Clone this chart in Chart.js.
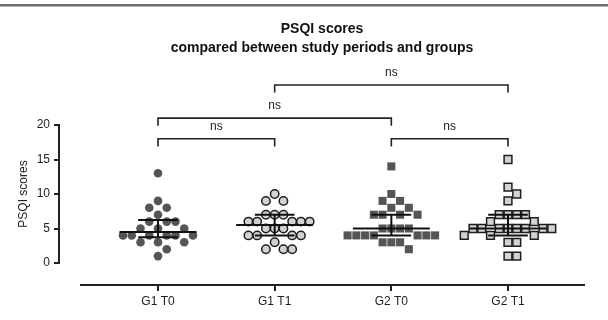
<!DOCTYPE html>
<html><head><meta charset="utf-8">
<script src="https://cdn.jsdelivr.net/npm/chart.js@4.4.1/dist/chart.umd.min.js"></script>
<style>html,body{margin:0;padding:0;background:#fff}#wrap{width:608px;height:320px;position:relative}</style>
</head><body><div id="wrap"><canvas id="c"></canvas></div>
<script>
// ---- data ----
const categories = ['G1 T0', 'G1 T1', 'G2 T0', 'G2 T1'];
const g1t0 = [13, 9, 8, 8, 7, 6, 6, 6, 5, 5, 5, 4, 4, 4, 4, 4, 4, 3, 3, 3, 2, 1];
const g1t1 = [10, 9, 9, 7, 7, 7, 6, 6, 6, 6, 6, 5, 5, 5, 4, 4, 4, 4, 3, 2, 2, 2];
const g2t0 = [14, 10, 9, 9, 8, 8, 7, 7, 7, 7, 5, 5, 5, 5, 4, 4, 4, 4, 4, 4, 4, 3, 3, 3, 2];
const g2t1 = [15, 11, 10, 9, 7, 7, 7, 7, 6, 6, 5, 5, 5, 5, 5, 5, 5, 5, 4, 4, 4, 3, 3, 1, 1];
const medians = [4.5, 5.5, 5, 5];
const q1s = [3.75, 4, 4, 4];
const q3s = [6.25, 7, 7, 7];
const yTicks = [0, 5, 10, 15, 20];
const bracketFrom = [0, 2, 0, 1];
const bracketTo = [1, 3, 2, 3];
const bracketLevel = [18, 18, 21, 25.8];
const bracketText = ['ns', 'ns', 'ns', 'ns'];

// ---- layout helpers ----
const STEP = 0.075;       // swarm column spacing (x units)
const LEG = 1.1;          // bracket leg length (y units)
const MED_HALF = 0.33, Q_HALF = 0.17;
const X_AXIS_VALUE = -3.19;

function swarm(values, center) {
  const occ = new Set();
  return values.map(v => {
    for (let k = 0; ; k++) {
      const c = k === 0 ? 0 : (k % 2 ? (k + 1) / 2 : -k / 2);
      if (!occ.has(v + '|' + c) && !occ.has((v - 1) + '|' + c) && !occ.has((v + 1) + '|' + c)) {
        occ.add(v + '|' + c);
        return {x: center + c * STEP, y: v};
      }
    }
  });
}

const groups = [g1t0, g1t1, g2t0, g2t1];
const pointStyles = [
  {pointStyle: 'circle', pointRadius: 4.3, backgroundColor: '#555555', borderColor: '#555555', borderWidth: 0},
  {pointStyle: 'circle', pointRadius: 4.2, backgroundColor: '#d2d2d2', borderColor: '#1e1e1e', borderWidth: 1.5},
  {pointStyle: 'rect', pointRadius: 5.7, backgroundColor: '#555555', borderColor: '#555555', borderWidth: 0},
  {pointStyle: 'rect', pointRadius: 5.5, backgroundColor: '#d2d2d2', borderColor: '#1e1e1e', borderWidth: 1.5}
];

const datasets = [];
// summary lines (median + IQR)
medians.forEach((m, i) => {
  datasets.push({
    data: [
      {x: i - MED_HALF, y: m}, {x: i + MED_HALF, y: m}, {x: i, y: null},
      {x: i - Q_HALF, y: q3s[i]}, {x: i + Q_HALF, y: q3s[i]}, {x: i, y: null},
      {x: i - Q_HALF, y: q1s[i]}, {x: i + Q_HALF, y: q1s[i]}, {x: i, y: null},
      {x: i, y: q1s[i]}, {x: i, y: q3s[i]}
    ],
    showLine: true, spanGaps: false, pointRadius: 0, borderColor: '#111', borderWidth: 2,
    clip: false, order: 0
  });
});
// brackets
bracketFrom.forEach((f, i) => {
  const t = bracketTo[i], l = bracketLevel[i];
  datasets.push({
    data: [{x: f, y: l - LEG}, {x: f, y: l}, {x: t, y: l}, {x: t, y: l - LEG}],
    showLine: true, pointRadius: 0, borderColor: '#222', borderWidth: 1.6,
    clip: false, order: 0
  });
});
// points
groups.forEach((g, i) => {
  datasets.push(Object.assign({data: swarm(g, i), showLine: false, clip: false, order: 1, pointHoverRadius: 0}, pointStyles[i]));
});

const deco = {
  id: 'deco',
  beforeDraw(chart) {
    const ctx = chart.ctx;
    ctx.save();
    ctx.fillStyle = '#ffffff';
    ctx.fillRect(0, 0, chart.width, chart.height);
    ctx.fillStyle = '#6e6e6e';
    ctx.fillRect(0, 4, chart.width, 2.5);
    ctx.restore();
  },
  afterDatasetsDraw(chart) {
    const ctx = chart.ctx, xs = chart.scales.x, ys = chart.scales.y, ca = chart.chartArea;
    ctx.save();
    // x axis line
    const ay = Math.round(ys.getPixelForValue(X_AXIS_VALUE));
    ctx.strokeStyle = '#222';
    ctx.lineWidth = 2;
    ctx.beginPath();
    ctx.moveTo(ca.left + 21, ay);
    ctx.lineTo(ca.right, ay);
    ctx.stroke();
    // bracket labels
    ctx.fillStyle = '#222';
    ctx.font = '12px "Liberation Sans", Arial, sans-serif';
    ctx.textAlign = 'center';
    ctx.textBaseline = 'middle';
    bracketText.forEach((txt, i) => {
      const px = xs.getPixelForValue((bracketFrom[i] + bracketTo[i]) / 2);
      const py = ys.getPixelForValue(bracketLevel[i]) - 12;
      ctx.fillText(txt, px, py);
    });
    ctx.restore();
  }
};

const font = {family: '"Liberation Sans", Arial, sans-serif', size: 12};

new Chart(document.getElementById('c'), {
  type: 'scatter',
  data: {datasets},
  options: {
    responsive: true, maintainAspectRatio: false, animation: false,
    events: [],
    layout: {padding: {top: 0, left: 0, right: 23, bottom: 57}},
    plugins: {
      legend: {display: false},
      tooltip: {enabled: false},
      title: {
        display: true, fullSize: false,
        text: ['PSQI scores', 'compared between study periods and groups'],
        color: '#111',
        font: {family: '"Liberation Sans", Arial, sans-serif', size: 14, weight: 'bold', lineHeight: 1.4},
        padding: {top: 19, bottom: 66.8}
      }
    },
    scales: {
      x: {
        type: 'linear', axis: 'x', position: {y: X_AXIS_VALUE},
        min: -0.8486, max: 3.66,
        afterBuildTicks: s => { s.ticks = categories.map((_, i) => ({value: i})); },
        ticks: {callback: v => categories[v], color: '#222', font, padding: 3, maxRotation: 0, autoSkip: false},
        grid: {display: true, drawOnChartArea: false, drawTicks: true, tickLength: 6, color: '#222', lineWidth: 2},
        border: {display: false}
      },
      y: {
        type: 'linear', position: 'left',
        min: 0, max: 20,
        afterBuildTicks: s => { s.ticks = yTicks.map(v => ({value: v})); },
        afterFit: s => { s.width = 59; },
        ticks: {color: '#222', font, padding: 4},
        grid: {display: true, drawOnChartArea: false, drawTicks: true, tickLength: 5, color: '#222', lineWidth: 2},
        border: {display: true, color: '#222', width: 2},
        title: {display: true, text: 'PSQI scores', color: '#222', font, padding: {top: 16, bottom: 0}}
      }
    }
  },
  plugins: [deco]
});
</script>
</body></html>
